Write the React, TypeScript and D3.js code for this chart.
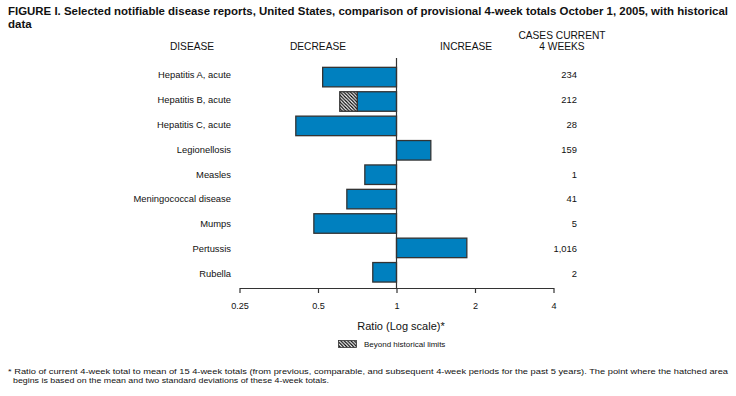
import React, { useRef, useEffect } from 'react';
import * as d3 from 'd3';

// disease rows, top to bottom
const diseases = [
  'Hepatitis A, acute',
  'Hepatitis B, acute',
  'Hepatitis C, acute',
  'Legionellosis',
  'Measles',
  'Meningococcal disease',
  'Mumps',
  'Pertussis',
  'Rubella',
];
// ratio of current 4-week total to historical mean
const ratios = [0.521, 0.606, 0.411, 1.354, 0.756, 0.645, 0.482, 1.861, 0.811];
// where the hatched part begins (null = within historical limits)
const limits: (number | null)[] = [null, 0.707, null, null, null, null, null, null, null];
const cases = [234, 212, 28, 159, 1, 41, 5, 1016, 2];
const tickValues = [0.25, 0.5, 1, 2, 4];

const titleText =
  'FIGURE I. Selected notifiable disease reports, United States, comparison of provisional 4-week totals October 1, 2005, with historical';
const footLines = [
  '* Ratio of current 4-week total to mean of 15 4-week totals (from previous, comparable, and subsequent 4-week periods for the past 5 years). The point where the hatched area',
  'begins is based on the mean and two standard deviations of these 4-week totals.',
];

const W = 736;
const H = 396;
const FONT = 'Liberation Sans, Arial, Helvetica, sans-serif';
const BLUE = '#0080bf';
const DARK = '#333333';

const App: React.FC = () => {
  const svgRef = useRef<SVGSVGElement>(null);

  useEffect(() => {
    if (!svgRef.current) return;
    const svg = d3.select(svgRef.current);
    svg.selectAll('*').remove();

    // hatch pattern
    const defs = svg.append('defs');
    const pat = defs.append('pattern')
      .attr('id', 'hatch')
      .attr('patternUnits', 'userSpaceOnUse')
      .attr('width', 3.4)
      .attr('height', 3.4);
    pat.append('rect').attr('width', 3.4).attr('height', 3.4).attr('fill', '#fff');
    pat.append('path')
      .attr('d', 'M-1,-1 L4.4,4.4 M-1,2.4 L1,4.4 M2.4,-1 L4.4,1')
      .attr('stroke', '#000')
      .attr('stroke-width', 1.2);

    // scales
    const x = d3.scaleLog().base(2).domain([0.25, 4]).range([239.5, 553.5]);
    const y = d3.scaleBand<string>()
      .domain(diseases)
      .range([64.9, 284.5])
      .paddingInner(0.2)
      .paddingOuter(0.1);
    const yText = d3.scalePoint<string>().domain(diseases).range([74.5, 274]);
    const fmt = d3.format(',');

    // title
    const title = svg.append('g')
      .attr('font-family', 'Liberation Sans Narrow, Arial Narrow, ' + FONT)
      .attr('font-weight', 'bold')
      .attr('font-size', 11.5)
      .attr('fill', '#111');
    title.append('text')
      .attr('x', 8).attr('y', 15)
      .attr('textLength', 720).attr('lengthAdjust', 'spacingAndGlyphs')
      .text(titleText);
    title.append('text').attr('x', 8).attr('y', 28).text('data');

    // column headers
    const head = svg.append('g')
      .attr('font-family', FONT)
      .attr('font-size', 10.2)
      .attr('fill', '#111')
      .attr('text-anchor', 'middle');
    head.append('text').attr('x', 192).attr('y', 50).text('DISEASE');
    head.append('text').attr('x', 318).attr('y', 50).text('DECREASE');
    head.append('text').attr('x', 466).attr('y', 50).text('INCREASE');
    head.append('text').attr('x', 562).attr('y', 39).text('CASES CURRENT');
    head.append('text').attr('x', 562).attr('y', 50).text('4 WEEKS');

    // disease labels
    svg.append('g')
      .attr('font-family', FONT)
      .attr('font-size', 9.4)
      .attr('fill', '#111')
      .attr('text-anchor', 'end')
      .selectAll('text')
      .data(diseases)
      .join('text')
      .attr('x', 231)
      .attr('y', d => yText(d)!)
      .attr('dy', '0.35em')
      .text(d => d);

    // case counts
    svg.append('g')
      .attr('font-family', FONT)
      .attr('font-size', 9.4)
      .attr('fill', '#111')
      .attr('text-anchor', 'end')
      .selectAll('text')
      .data(cases)
      .join('text')
      .attr('x', 577)
      .attr('y', (_, i) => yText(diseases[i])!)
      .attr('dy', '0.35em')
      .text(d => fmt(d));

    // bars
    const bars = svg.append('g');
    diseases.forEach((d, i) => {
      const r = ratios[i];
      const lim = limits[i];
      const top = y(d)!;
      const h = y.bandwidth();
      const solidStart = lim != null ? lim : r;
      const x0 = Math.min(x(solidStart), x(1));
      const x1 = Math.max(x(solidStart), x(1));
      bars.append('rect')
        .attr('x', x0).attr('y', top)
        .attr('width', x1 - x0).attr('height', h)
        .attr('fill', BLUE)
        .attr('stroke', DARK)
        .attr('stroke-width', 1.3);
      if (lim != null) {
        const h0 = Math.min(x(r), x(lim));
        const h1 = Math.max(x(r), x(lim));
        bars.append('rect')
          .attr('x', h0).attr('y', top)
          .attr('width', h1 - h0).attr('height', h)
          .attr('fill', 'url(#hatch)')
          .attr('stroke', DARK)
          .attr('stroke-width', 1.3);
      }
    });

    // reference line at ratio 1
    svg.append('line')
      .attr('x1', x(1)).attr('x2', x(1))
      .attr('y1', 58).attr('y2', 288)
      .attr('stroke', DARK)
      .attr('stroke-width', 1.2);

    // axis
    const axis = d3.axisBottom(x)
      .tickValues(tickValues)
      .tickFormat(d => String(d))
      .tickSizeInner(5)
      .tickSizeOuter(0)
      .tickPadding(10);
    const ag = svg.append('g')
      .attr('transform', 'translate(0,288)')
      .call(axis);
    ag.select('.domain').attr('stroke', DARK).attr('stroke-width', 1.2);
    ag.selectAll('.tick line').attr('stroke', DARK).attr('stroke-width', 1.2);
    ag.selectAll('.tick text')
      .attr('font-family', FONT)
      .attr('font-size', 9.1)
      .attr('fill', '#111');

    // axis title
    svg.append('text')
      .attr('x', 401).attr('y', 329.5)
      .attr('text-anchor', 'middle')
      .attr('font-family', FONT)
      .attr('font-size', 11)
      .attr('fill', '#111')
      .text('Ratio (Log scale)*');

    // legend
    svg.append('rect')
      .attr('x', 338.5).attr('y', 340.5)
      .attr('width', 18).attr('height', 7)
      .attr('fill', 'url(#hatch)')
      .attr('stroke', DARK)
      .attr('stroke-width', 0.8);
    svg.append('text')
      .attr('x', 364).attr('y', 347)
      .attr('font-family', FONT)
      .attr('font-size', 8)
      .attr('fill', '#111')
      .text('Beyond historical limits');

    // footnote
    const foot = svg.append('g')
      .attr('font-family', FONT)
      .attr('font-size', 7.2)
      .attr('fill', '#111');
    foot.append('text')
      .attr('x', 8).attr('y', 374)
      .attr('textLength', 720).attr('lengthAdjust', 'spacingAndGlyphs')
      .text(footLines[0]);
    foot.append('text')
      .attr('x', 13).attr('y', 383)
      .attr('textLength', 316).attr('lengthAdjust', 'spacingAndGlyphs')
      .text(footLines[1]);
  }, []);

  return (
    <svg
      ref={svgRef}
      width={W}
      height={H}
      style={{ position: 'absolute', left: 0, top: 0, background: '#fff' }}
    />
  );
};

export default App;
